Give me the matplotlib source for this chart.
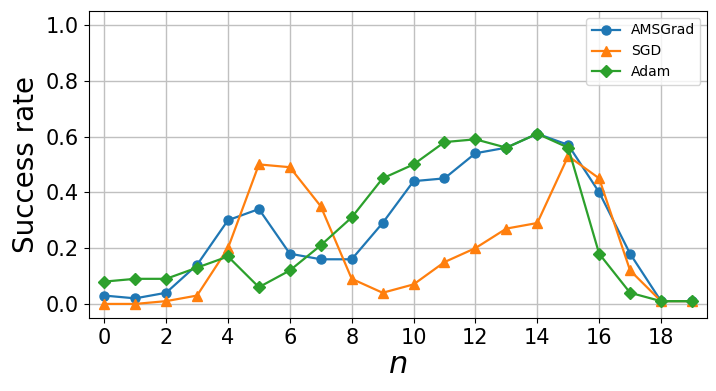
import matplotlib
matplotlib.use("Agg")
from matplotlib import pyplot as plt
import numpy as np

n = list(range(20))
amsgrad = [0.03, 0.02, 0.04, 0.14, 0.30, 0.34, 0.18, 0.16, 0.16, 0.29,
           0.44, 0.45, 0.54, 0.56, 0.61, 0.57, 0.40, 0.18, 0.01, 0.01]
sgd = [0.00, 0.00, 0.01, 0.03, 0.20, 0.50, 0.49, 0.35, 0.09, 0.04,
       0.07, 0.15, 0.20, 0.27, 0.29, 0.53, 0.45, 0.12, 0.01, 0.01]
adam = [0.08, 0.09, 0.09, 0.13, 0.17, 0.06, 0.12, 0.21, 0.31, 0.45,
        0.50, 0.58, 0.59, 0.56, 0.61, 0.56, 0.18, 0.04, 0.01, 0.01]

fig = plt.figure(figsize=(7.16, 3.91), dpi=100)
ax = fig.add_axes([0.124, 0.187, 0.864, 0.785])
ax.plot(n, amsgrad, marker='o', markersize=6.5, linewidth=1.6, label='AMSGrad')
ax.plot(n, sgd, marker='^', markersize=6.5, linewidth=1.6, label='SGD')
ax.plot(n, adam, marker='D', markersize=6.5, linewidth=1.6, label='Adam')
ax.set_xlim(-0.5, 19.5)
ax.set_ylim(-0.05, 1.05)
ax.set_xticks(range(0, 20, 2))
ax.set_yticks(np.arange(0, 1.01, 0.2))
ax.tick_params(labelsize=15)
ax.grid(True, color='#c0c0c0', linewidth=1)
ax.set_xlabel('$n$', fontsize=22, labelpad=2)
ax.set_ylabel('Success rate', fontsize=20)
ax.legend(loc='upper right', fontsize=10)
fig.savefig('out.png', dpi=100)
